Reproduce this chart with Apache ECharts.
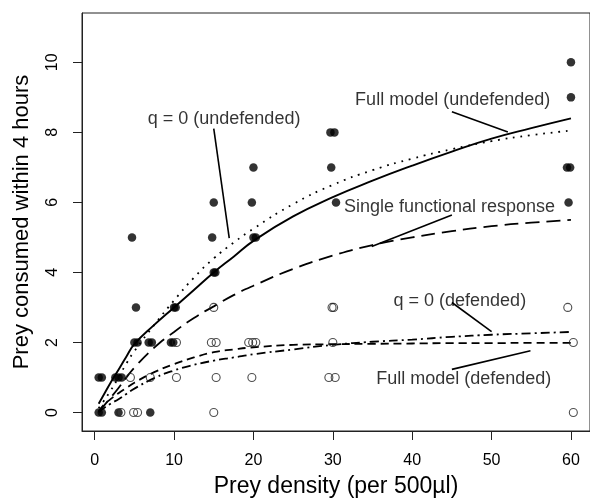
<!DOCTYPE html>
<html>
<head>
<meta charset="utf-8">
<script src="https://cdn.jsdelivr.net/npm/echarts@6/dist/echarts.min.js"></script>
<style>
html, body { margin: 0; padding: 0; background: #fff; }
#chart { width: 590px; height: 500px; }
</style>
</head>
<body>
<div id="chart"></div>
<script>
// tick labels
var xTicks = [0, 10, 20, 30, 40, 50, 60];
var yTicks = [0, 2, 4, 6, 8, 10];

// observed counts, undefended prey (filled points) [density, eaten]
var undefended = [
  [60, 10], [60, 9], [29.7, 8], [30.2, 8], [20, 7], [29.8, 7], [59.5, 7], [59.9, 7],
  [15, 6], [19.8, 6], [30.4, 6], [59.7, 6], [4.7, 5], [14.8, 5], [20, 5], [20.3, 5],
  [15, 4], [15.2, 4], [5.2, 3], [10, 3], [10.2, 3], [5, 2], [5.4, 2], [6.8, 2], [7.2, 2],
  [9.6, 2], [9.9, 2], [0.5, 1], [0.9, 1], [2.6, 1], [3, 1], [3.4, 1], [0.5, 0], [0.9, 0],
  [3, 0], [7, 0]
];

// observed counts, defended prey (open points)
var defended = [
  [15, 3], [29.9, 3], [30.1, 3], [59.6, 3], [10.3, 2], [14.7, 2], [15.3, 2], [19.4, 2],
  [19.9, 2], [20.3, 2], [30, 2], [60.3, 2], [4.5, 1], [7, 1], [10.3, 1], [15.3, 1],
  [19.8, 1], [29.5, 1], [30.3, 1], [3.3, 0], [4.9, 0], [5.4, 0], [15, 0], [60.3, 0]
];

// model curves
var curveX = [0.5, 1, 2, 3, 4, 5, 7.5, 10, 12.5, 15, 17.5, 20, 25, 30, 35, 40, 45, 50, 55, 60];
var fullUndef = [0.25, 0.45, 0.85, 1.22, 1.6, 1.95, 2.5, 3.0, 3.5, 4.0, 4.45, 4.9, 5.6, 6.15, 6.62, 7.05, 7.45, 7.82, 8.12, 8.4];
var q0Undef = [0.12, 0.28, 0.62, 1.0, 1.4, 1.75, 2.5, 3.2, 3.85, 4.4, 4.85, 5.25, 5.95, 6.5, 6.92, 7.25, 7.52, 7.75, 7.92, 8.05];
var singleResp = [0.02, 0.15, 0.42, 0.7, 1.0, 1.28, 1.85, 2.3, 2.7, 3.03, 3.35, 3.62, 4.1, 4.48, 4.78, 5.0, 5.18, 5.32, 5.42, 5.5];
var q0Def = [0.0, 0.1, 0.25, 0.38, 0.53, 0.68, 0.98, 1.2, 1.36, 1.48, 1.57, 1.66, 1.8, 1.93, 2.02, 2.08, 2.16, 2.22, 2.26, 2.3];
var fullDef = [0.02, 0.18, 0.38, 0.55, 0.7, 0.85, 1.15, 1.38, 1.57, 1.72, 1.8, 1.86, 1.93, 1.95, 1.96, 1.97, 1.98, 1.98, 1.99, 1.99];

var black = '#000';
var font = '"Liberation Sans", Arial, Helvetica, sans-serif';

// text annotations and their pointer lines (data coordinates)
var notes = [
  { text: 'Full model (undefended)', at: [45.1, 8.92], line: [[45.0, 8.59], [52.05, 8.01]] },
  { text: 'q = 0 (undefended)', at: [16.3, 8.39], line: [[15.0, 8.11], [16.95, 4.98]] },
  { text: 'Single functional response', at: [44.7, 5.87], line: [[45.0, 5.64], [34.9, 4.74]] },
  { text: 'q = 0 (defended)', at: [46.0, 3.18], line: [[45.0, 3.14], [50.0, 2.31]] },
  { text: 'Full model (defended)', at: [46.5, 0.96], line: [[54.9, 1.76], [45.0, 1.23]] }
];

function curve(ys, type, width) {
  return {
    type: 'line',
    data: curveX.map(function (x, i) { return [x, ys[i]]; }),
    showSymbol: false, smooth: 0.5, silent: true, z: 3,
    lineStyle: { color: '#000', width: width || 1.8, type: type, cap: 'butt' }
  };
}

var series = [
  curve(fullUndef, 'solid', 1.9),
  curve(q0Undef, [1.8, 5.8]),
  curve(singleResp, [14, 7]),
  curve(q0Def, [9, 4, 2, 4]),
  curve(fullDef, [8, 5]),
  {
    type: 'scatter', data: undefended, symbol: 'circle', symbolSize: 8.5, silent: true, z: 4,
    itemStyle: { color: '#000' }
  },
  {
    type: 'scatter', data: defended, symbol: 'circle', symbolSize: 8, silent: true, z: 5,
    itemStyle: { color: 'rgba(0,0,0,0)', borderColor: '#222', borderWidth: 1.1 }
  }
];

notes.forEach(function (n) {
  series.push({
    type: 'line', data: n.line, showSymbol: false, silent: true, z: 3,
    lineStyle: { color: '#000', width: 1.6 }
  });
});

series.push({
  type: 'scatter', silent: true, symbolSize: 0, z: 6,
  itemStyle: { color: '#000' },
  data: notes.map(function (n) { return { value: n.at, name: n.text }; }),
  label: {
    show: true, position: 'inside', formatter: '{b}',
    color: black, textBorderWidth: 0, fontSize: 18, fontFamily: font
  }
});

var chart = echarts.init(document.getElementById('chart'));
chart.setOption({
  animation: false,
  backgroundColor: '#fff',
  grid: {
    left: 82, right: 0, top: 13, bottom: 69, outerBoundsMode: 'none',
    show: true, borderColor: '#222', borderWidth: 1
  },
  xAxis: {
    type: 'value', min: -1.6, max: 62.4,
    name: 'Prey density (per 500\u00b5l)', nameLocation: 'middle', nameGap: 44,
    nameTextStyle: { color: black, fontSize: 23, fontFamily: font },
    axisLine: { show: true, onZero: false, lineStyle: { color: '#222', width: 1 } },
    axisTick: { show: true, length: 9, customValues: xTicks, lineStyle: { color: '#222' } },
    axisLabel: { customValues: xTicks, color: black, fontSize: 16, fontFamily: font, margin: 22 },
    splitLine: { show: false }
  },
  yAxis: {
    type: 'value', min: -0.53, max: 11.41,
    name: 'Prey consumed within 4 hours', nameLocation: 'middle', nameGap: 49,
    nameTextStyle: { color: black, fontSize: 22, fontFamily: font },
    axisLine: { show: true, onZero: false, lineStyle: { color: '#222', width: 1 } },
    axisTick: { show: true, length: 9, customValues: yTicks, lineStyle: { color: '#222' } },
    axisLabel: { customValues: yTicks, rotate: 90, color: black, fontSize: 16, fontFamily: font, margin: 21 },
    splitLine: { show: false }
  },
  series: series
});
</script>
</body>
</html>
